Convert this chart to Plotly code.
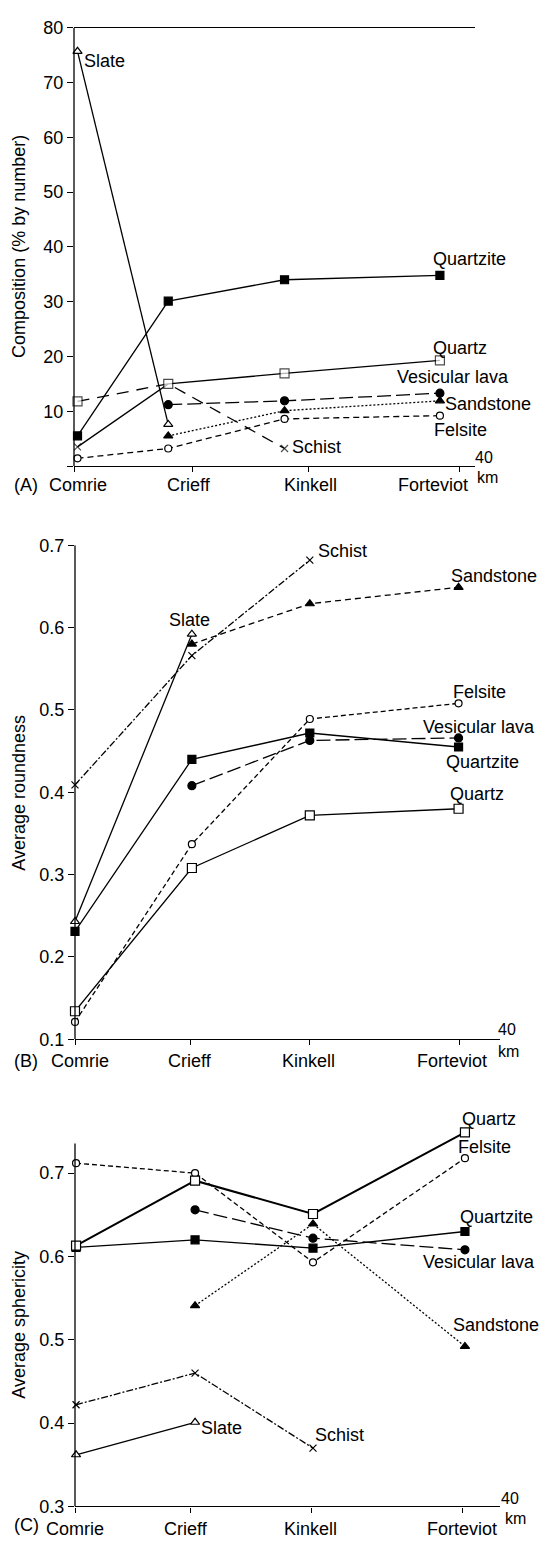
import plotly.graph_objects as go

# ---------------- data ----------------
towns = ["Comrie", "Crieff", "Kinkell", "Forteviot"]

# distances along the river (km) as drawn in each panel
tick_km_A = [0, 11.8, 23.4, 38.5]
tick_km_B = [0, 10.9, 22.1, 36.2]
tick_km_C = [0, 10.9, 22.3, 36.5]
label_km_A = [0.35, 11.5, 23.6, 35.8]
label_km_B = [0.5, 10.8, 22.0, 35.5]
label_km_C = [0.0, 10.4, 22.2, 36.4]
point_km_A = [0.35, 9.4, 21.0, 36.5]
point_km_B = [0.0, 11.0, 22.1, 36.1]
point_km_C = [0.1, 11.3, 22.4, 36.7]

# (A) composition, % by number
comp_quartzite = [5.5, 30.1, 34.0, 34.8]
comp_quartz = [3.5, 15.0, 16.9, 19.3]
comp_schist = [11.8, 15.0, 3.2, None]
comp_vesicular = [None, 11.2, 11.9, 13.3]
comp_sandstone = [None, 5.5, 10.1, 11.9]
comp_felsite = [1.4, 3.2, 8.6, 9.2]
comp_slate = [75.7, 7.6, None, None]

# (B) average roundness
round_quartzite = [0.231, 0.440, 0.472, 0.455]
round_quartz = [0.134, 0.308, 0.372, 0.380]
round_schist = [0.409, 0.566, 0.682, None]
round_vesicular = [None, 0.408, 0.463, 0.466]
round_sandstone = [None, 0.580, 0.629, 0.649]
round_felsite = [0.121, 0.337, 0.489, 0.508]
round_slate = [0.243, 0.592, None, None]

# (C) average sphericity
sph_quartzite = [0.611, 0.620, 0.610, 0.630]
sph_quartz = [0.613, 0.691, 0.651, 0.749]
sph_schist = [0.422, 0.460, 0.370, None]
sph_vesicular = [None, 0.656, 0.622, 0.608]
sph_sandstone = [None, 0.541, 0.639, 0.492]
sph_felsite = [0.712, 0.700, 0.593, 0.718]
sph_slate = [0.362, 0.401, None, None]

# ---------------- layout helpers ----------------
W, H = 543, 1549
FONT = "Liberation Sans, Arial, Helvetica, sans-serif"


def fx(px):
    return px / W


def fy(py):
    return 1 - py / H


# panel C: plotting area extends above its axis line (quartz point above)
panels = {
    "A": dict(x0=74, x1=475, ytop=18, ybot=462, yr=[0, 80], ylinetop=80),
    "B": dict(x0=75, x1=500, ytop=542.3, ybot=1042.7, yr=[0.1, 0.7], ylinetop=0.7),
    "C": dict(x0=75, x1=500, ytop=1127.4, ybot=1516, yr=[0.3, 0.7604], ylinetop=0.7355),
}

fig = go.Figure()

LW = 1.3
DASH = {
    "solid": "solid",
    "long": "14px,5px",
    "schistA": "12px,8px",
    "dash": "6px,4px",
    "short": "5px,3px",
    "dot": "2px,2px",
    "dashdot": "7px,2px,2px,2px",
}

STY = {
    "quartzite": dict(symbol="square", fill="black", size=8),
    "quartz": dict(symbol="square", fill="white", size=9),
    "schist": dict(symbol="x-thin-open", fill="black", size=7),
    "vesicular": dict(symbol="circle", fill="black", size=8),
    "sandstone": dict(symbol="triangle-up", fill="black", size=8),
    "felsite": dict(symbol="circle", fill="white", size=7),
    "slate": dict(symbol="triangle-up", fill="white", size=8),
}


def add(xs, ys, key, dash, axis, lw=LW, symbols=None, sizes=None, fills=None):
    st = STY[key]
    fig.add_trace(go.Scatter(
        x=xs, y=ys, mode="lines+markers",
        line=dict(color="black", width=lw, dash=DASH[dash]),
        marker=dict(
            symbol=symbols if symbols is not None else st["symbol"],
            size=sizes if sizes is not None else st["size"],
            color=fills if fills is not None else st["fill"],
            line=dict(color="black", width=1.2),
        ),
        cliponaxis=False, xaxis="x" + axis, yaxis="y" + axis,
        showlegend=False, hoverinfo="skip",
    ))


# Panel A  (axis suffix "")
add(point_km_A, comp_slate, "slate", "solid", "")
add(point_km_A, comp_quartzite, "quartzite", "solid", "")
add(point_km_A, comp_schist, "schist", "schistA", "",
    symbols=["square", "square", "x-thin-open", "x-thin-open"],
    sizes=[9, 0, 7, 7], fills=["white", "white", "black", "black"])
add(point_km_A, comp_quartz, "quartz", "solid", "",
    symbols=["x-thin-open", "square", "square", "square"],
    sizes=[7, 9, 9, 9], fills=["black", "white", "white", "white"])
add(point_km_A, comp_vesicular, "vesicular", "long", "")
add(point_km_A, comp_sandstone, "sandstone", "dot", "")
add(point_km_A, comp_felsite, "felsite", "dash", "")

# Panel B
add(point_km_B, round_schist, "schist", "dashdot", "2")
add(point_km_B, round_sandstone, "sandstone", "dash", "2")
add(point_km_B, round_slate, "slate", "solid", "2")
add(point_km_B, round_felsite, "felsite", "short", "2")
add(point_km_B, round_vesicular, "vesicular", "long", "2")
add(point_km_B, round_quartzite, "quartzite", "solid", "2")
add(point_km_B, round_quartz, "quartz", "solid", "2")

# Panel C
add(point_km_C, sph_schist, "schist", "dashdot", "3")
add(point_km_C, sph_slate, "slate", "solid", "3")
add(point_km_C, sph_sandstone, "sandstone", "dot", "3")
add(point_km_C, sph_vesicular, "vesicular", "long", "3")
add(point_km_C, sph_quartzite, "quartzite", "solid", "3")
add(point_km_C, sph_felsite, "felsite", "short", "3")
add(point_km_C, sph_quartz, "quartz", "solid", "3", lw=2)

tick_km = {"A": tick_km_A, "B": tick_km_B, "C": tick_km_C}
label_km = {"A": label_km_A, "B": label_km_B, "C": label_km_C}
ytick = {
    "A": (list(range(0, 90, 10)), [""] + [str(v) for v in range(10, 90, 10)]),
    "B": ([0.1, 0.2, 0.3, 0.4, 0.5, 0.6, 0.7], ["0.1", "0.2", "0.3", "0.4", "0.5", "0.6", "0.7"]),
    "C": ([0.3, 0.4, 0.5, 0.6, 0.7], ["0.3", "0.4", "0.5", "0.6", "0.7"]),
}

axfont = dict(family=FONT, size=18, color="black")
layout = {}
annotations = []
shapes = []
for i, (name, p) in enumerate(panels.items()):
    sfx = "" if i == 0 else str(i + 1)
    layout["xaxis" + sfx] = dict(
        domain=[fx(p["x0"]), fx(p["x1"])], range=[0, 40], anchor="y" + sfx,
        showline=True, linecolor="black", linewidth=LW, mirror=(name == "A"),
        ticks="outside", ticklen=5, tickwidth=LW, tickcolor="black",
        tickvals=tick_km[name], showticklabels=False,
        showgrid=False, zeroline=False, fixedrange=True,
    )
    tv, tt = ytick[name]
    layout["yaxis" + sfx] = dict(
        domain=[fy(p["ybot"]), fy(p["ytop"])], range=p["yr"], anchor="x" + sfx,
        showline=False,
        ticks="outside", ticklen=6, tickwidth=LW, tickcolor="black",
        tickvals=tv, ticktext=tt, tickfont=axfont,
        showgrid=False, zeroline=False, fixedrange=True,
    )
    # y axis line drawn only up to its last tick / top
    shapes.append(dict(
        type="line", xref="x" + sfx + " domain", yref="y" + sfx,
        x0=0, x1=0, y0=p["yr"][0], y1=p["ylinetop"],
        line=dict(color="black", width=LW),
    ))
    # town names under the x axis
    ylab = {"A": 481, "B": 1065, "C": 1539}[name]
    for t, k in zip(towns, label_km[name]):
        annotations.append(dict(
            x=k, y=fy(ylab), xref="x" + sfx, yref="paper", text=t,
            showarrow=False, xanchor="center", yanchor="middle", font=axfont,
        ))

small = dict(family=FONT, size=16, color="black")


def note(text, px, py, anchor="left", font=axfont, angle=0):
    annotations.append(dict(
        x=fx(px), y=fy(py), xref="paper", yref="paper", text=text,
        showarrow=False, xanchor=anchor, yanchor="middle", font=font,
        textangle=angle,
    ))


# panel letters
note("(A)", 12, 481)
note("(B)", 12, 1065)
note("(C)", 12, 1535)

# km markers
note("40", 473, 453, font=small)
note("km", 475, 474, font=small)
note("40", 496, 1033, font=small)
note("km", 496, 1055, font=small)
note("40", 499, 1508, font=small)
note("km", 503, 1528, font=small)

# y-axis titles
note("Composition (% by number)", 19, 240, anchor="center", angle=-90)
note("Average roundness", 19, 793, anchor="center", angle=-90)
note("Average sphericity", 19, 1332, anchor="center", angle=-90)

# series labels, panel A
note("Slate", 82, 52)
note("Quartzite", 431, 252)
note("Quartz", 431, 342)
note("Vesicular lava", 395, 372)
note("Sandstone", 443, 399)
note("Felsite", 432, 425)
note("Schist", 290, 443)
# panel B
note("Schist", 316, 548)
note("Sandstone", 449, 573)
note("Slate", 167, 618)
note("Felsite", 451, 691)
note("Vesicular lava", 421, 726)
note("Quartzite", 444, 762)
note("Quartz", 448, 794)
# panel C
note("Quartz", 460, 1123)
note("Felsite", 456, 1152)
note("Quartzite", 458, 1223)
note("Vesicular lava", 421, 1268)
note("Sandstone", 451, 1332)
note("Slate", 199, 1437)
note("Schist", 313, 1444)

fig.update_layout(
    width=W, height=H, margin=dict(l=0, r=0, t=0, b=0, pad=0),
    paper_bgcolor="white", plot_bgcolor="white",
    font=dict(family=FONT, size=18, color="black"),
    showlegend=False, annotations=annotations, shapes=shapes, **layout,
)

fig.write_html(
    "out.html",
    config={"displayModeBar": False},
    post_script="document.body.style.margin='0px';document.body.style.padding='0px';",
)
